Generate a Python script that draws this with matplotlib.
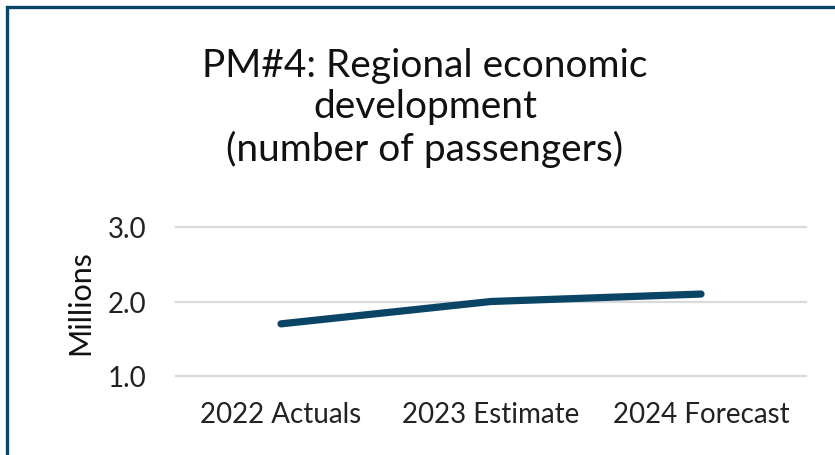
import matplotlib
matplotlib.use("Agg")
import matplotlib.pyplot as plt
from matplotlib.patches import Rectangle

categories = ["2022 Actuals", "2023 Estimate", "2024 Forecast"]
passengers_m = [1.7, 2.0, 2.1]
yticks = [1.0, 2.0, 3.0]

plt.rcParams["font.family"] = ["Lato", "DejaVu Sans"]

fig = plt.figure(figsize=(8.35, 4.56), dpi=100)
ax = fig.add_axes([176 / 835, 1 - 377 / 456, 630 / 835, 149 / 456])

x = range(len(categories))
ax.plot(x, passengers_m, color="#0B4566", lw=5.2, solid_capstyle="round", zorder=3)

ax.set_xlim(-0.5, 2.5)
ax.set_ylim(1.0, 3.0)
ax.set_yticks(yticks)
ax.set_yticklabels([f"{v:.1f}" for v in yticks])
ax.set_xticks(list(x))
ax.set_xticklabels(categories)
ax.tick_params(axis="both", length=0, labelsize=20, colors="#222222")
ax.tick_params(axis="y", pad=21)
ax.tick_params(axis="x", pad=18)
for s in ax.spines.values():
    s.set_visible(False)
ax.grid(axis="y", color="#DADADA", lw=1.6, clip_on=False)
ax.set_axisbelow(True)
ax.set_ylabel("Millions", fontsize=22, color="#111111", labelpad=10)

fig.text(425 / 835, 1 - 108 / 456,
         "PM#4: Regional economic\ndevelopment\n(number of passengers)",
         ha="center", va="center", fontsize=28, color="#111111", linespacing=1.2)

# frame of the surrounding box (only top and left edges are inside the crop)
fig.patches.append(Rectangle((6.5 / 835, -0.2), 1.2, 1.2 - 7.5 / 456,
                             transform=fig.transFigure, fill=False,
                             edgecolor="#0B4566", lw=2.4, clip_on=False))

fig.savefig("out.png", dpi=100, facecolor="white")
